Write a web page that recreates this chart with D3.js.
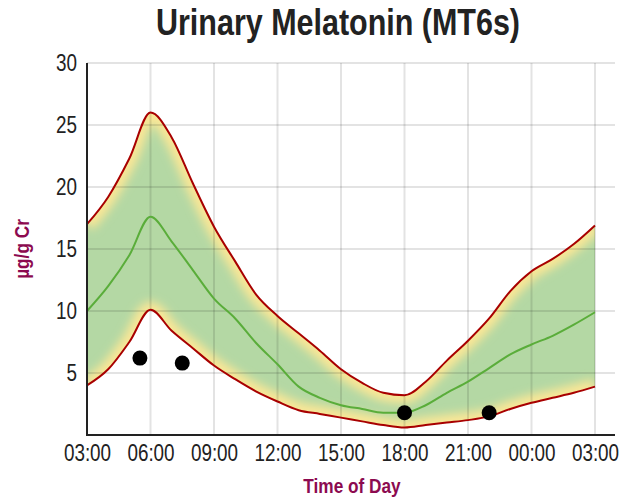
<!DOCTYPE html>
<html>
<head>
<meta charset="utf-8">
<script src="https://cdn.jsdelivr.net/npm/d3@7"></script>
<style>
  html, body { margin: 0; padding: 0; background: #fff; }
  svg { display: block; }
  text { font-family: "Liberation Sans", Arial, sans-serif; }
</style>
</head>
<body>
<svg id="chart" width="620" height="500"></svg>
<script>
// ---- data ----
const hours = [3, 4, 5, 6, 7, 8, 9, 10, 11, 12, 13, 14, 15, 16, 17, 18, 19, 20, 21, 22, 23, 24, 25, 26, 27];
const upper = [17.0, 19.2, 22.3, 26.0, 24.0, 20.3, 16.8, 14.0, 11.3, 9.6, 8.2, 6.8, 5.3, 4.2, 3.4, 3.2, 4.3, 6.0, 7.6, 9.4, 11.6, 13.2, 14.2, 15.4, 16.9];
const mean  = [10.0, 12.0, 14.5, 17.6, 15.6, 13.3, 11.0, 9.4, 7.4, 5.7, 3.9, 3.0, 2.4, 2.1, 1.8, 1.8, 2.4, 3.4, 4.3, 5.4, 6.5, 7.3, 8.0, 8.9, 9.9];
const lower = [4.0, 5.3, 7.5, 10.1, 8.4, 7.0, 5.6, 4.5, 3.5, 2.7, 2.0, 1.7, 1.4, 1.1, 0.8, 0.6, 0.8, 1.0, 1.2, 1.5, 2.1, 2.6, 3.0, 3.4, 3.9];
const sampleHours  = [5.5, 7.5, 18.0, 22.0];
const sampleValues = [6.2, 5.8, 1.8, 1.8];
const xTickHours  = [3, 6, 9, 12, 15, 18, 21, 24, 27];
const xTickLabels = ["03:00", "06:00", "09:00", "12:00", "15:00", "18:00", "21:00", "00:00", "03:00"];
const yTicks = [5, 10, 15, 20, 25, 30];

const chartTitle = "Urinary Melatonin (MT6s)";
const xTitle = "Time of Day";
const yTitle = "µg/g Cr";

// ---- layout ----
const svg = d3.select("#chart");
const pL = 87, pR = 615, pT = 63, pB = 435;
const x = d3.scaleLinear().domain([3, 27]).range([pL, 595]);
const y = d3.scaleLinear().domain([0, 30]).range([pB, pT]);

const rows = hours.map((h, i) => ({ h, up: upper[i], mid: mean[i], lo: lower[i] }));

const defs = svg.append("defs");
defs.append("filter").attr("id", "blur")
  .attr("x", "-20%").attr("y", "-20%").attr("width", "140%").attr("height", "140%")
  .append("feGaussianBlur").attr("stdDeviation", 5);

const curve = d3.curveMonotoneX;
const area = d3.area().x(d => x(d.h)).y0(d => y(d.lo)).y1(d => y(d.up)).curve(curve);
const lineUp = d3.line().x(d => x(d.h)).y(d => y(d.up)).curve(curve);
const lineLo = d3.line().x(d => x(d.h)).y(d => y(d.lo)).curve(curve);
const lineMid = d3.line().x(d => x(d.h)).y(d => y(d.mid)).curve(curve);

defs.append("clipPath").attr("id", "bandClip")
  .append("path").attr("d", area(rows));

// band with yellow edges fading to green
const band = svg.append("g").attr("clip-path", "url(#bandClip)");
band.append("path").attr("d", area(rows)).attr("fill", "#b4d8a4");
const glow = band.append("g").attr("filter", "url(#blur)");
glow.append("path").attr("d", lineUp(rows)).attr("fill", "none")
  .attr("stroke", "#fbe796").attr("stroke-width", 16);
glow.append("path").attr("d", lineLo(rows)).attr("fill", "none")
  .attr("stroke", "#fbe796").attr("stroke-width", 16);

// grid
const grid = svg.append("g");
grid.selectAll("line.h").data(yTicks).join("line")
  .attr("x1", pL).attr("x2", pR)
  .attr("y1", d => y(d)).attr("y2", d => y(d))
  .attr("stroke", "rgba(0,0,0,0.11)").attr("stroke-width", 2);
grid.selectAll("line.v").data(xTickHours.slice(1)).join("line")
  .attr("x1", d => x(d)).attr("x2", d => x(d))
  .attr("y1", pT).attr("y2", pB)
  .attr("stroke", "rgba(0,0,0,0.11)").attr("stroke-width", 2);

// lines
svg.append("path").attr("d", lineUp(rows)).attr("fill", "none")
  .attr("stroke", "#a80000").attr("stroke-width", 2);
svg.append("path").attr("d", lineLo(rows)).attr("fill", "none")
  .attr("stroke", "#a80000").attr("stroke-width", 2);
svg.append("path").attr("d", lineMid(rows)).attr("fill", "none")
  .attr("stroke", "#5aad3a").attr("stroke-width", 2);

// axes
const xAxis = d3.axisBottom(x).tickValues(xTickHours)
  .tickFormat((d, i) => xTickLabels[i]).tickSize(0).tickPadding(10);
const gx = svg.append("g").attr("transform", `translate(0,${pB})`).call(xAxis);
gx.select(".domain").remove();
gx.selectAll("text").attr("font-size", 23).attr("fill", "#222")
  .style("font-family", '"Liberation Sans", Arial, sans-serif');
svg.append("line").attr("x1", pL - 1).attr("x2", pR).attr("y1", pB).attr("y2", pB)
  .attr("stroke", "#222").attr("stroke-width", 2);

const yAxis = d3.axisLeft(y).tickValues(yTicks).tickSize(0).tickPadding(10);
const gy = svg.append("g").attr("transform", `translate(${pL},0)`).call(yAxis);
gy.select(".domain").remove();
gy.selectAll("text").attr("font-size", 23).attr("fill", "#222")
  .style("font-family", '"Liberation Sans", Arial, sans-serif');
svg.append("line").attr("x1", pL).attr("x2", pL).attr("y1", pT).attr("y2", pB + 1)
  .attr("stroke", "#222").attr("stroke-width", 2);

// sample points
svg.selectAll("circle.pt").data(sampleHours).join("circle")
  .attr("cx", d => x(d)).attr("cy", (d, i) => y(sampleValues[i]))
  .attr("r", 7.5).attr("fill", "#000");

// titles
svg.append("text").attr("class", "ttl").attr("x", 338).attr("y", 35).attr("text-anchor", "middle")
  .attr("font-size", 36).attr("font-weight", "bold").attr("fill", "#222").text(chartTitle);
svg.append("text").attr("x", 352).attr("y", 493).attr("text-anchor", "middle")
  .attr("font-size", 21).attr("font-weight", "bold").attr("fill", "#8c0a50").text(xTitle);
svg.append("text").attr("transform", `translate(29,249) rotate(-90)`).attr("text-anchor", "middle")
  .attr("font-size", 21).attr("font-weight", "bold").attr("fill", "#8c0a50").text(yTitle);

// condense all text horizontally (narrow face look)
svg.selectAll("text").each(function () {
  const w = this.getComputedTextLength();
  const isTitle = this.classList.contains("ttl");
  d3.select(this).attr("lengthAdjust", "spacingAndGlyphs")
    .attr("textLength", isTitle ? 364 : w * 0.82);
});
</script>
</body>
</html>
